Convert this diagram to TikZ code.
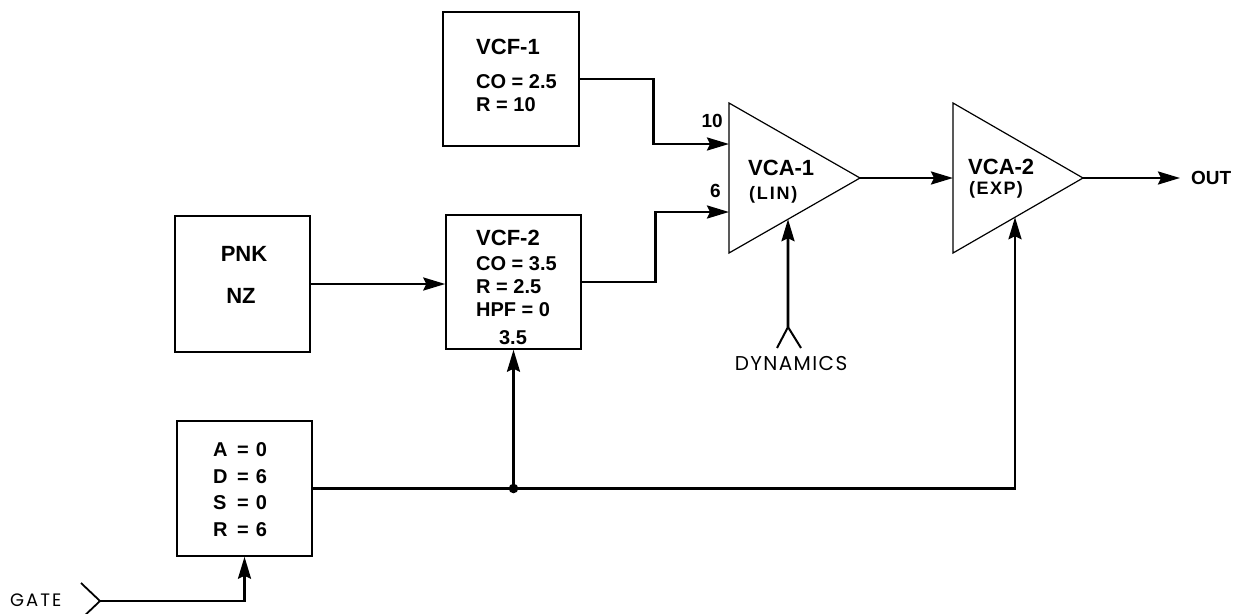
\documentclass[tikz,border=0pt]{standalone}
\usepackage{fontspec}
\setmainfont{Liberation Sans}
\newfontfamily\geofont{Poppins}
\usetikzlibrary{arrows.meta,calc}
\begin{document}
\begin{tikzpicture}[x=1pt,y=-1pt,
  box/.style={draw,line width=1.5pt,inner sep=0pt},
  conn/.style={line width=2.6pt},
  arr/.style={conn,-{Stealth[length=22pt,width=13pt,inset=3pt]}},
  amp/.style={line width=1.2pt,line join=miter},
  tA/.style={font=\bfseries\fontsize{22}{26}\selectfont,inner sep=0pt,anchor=base west},
  tB/.style={font=\bfseries\fontsize{20}{24}\selectfont,inner sep=0pt,anchor=base west},
  tC/.style={font=\bfseries\fontsize{18}{22}\selectfont,inner sep=0pt,anchor=base west},
  tN/.style={font=\bfseries\fontsize{19}{22}\selectfont,inner sep=0pt},
  tG/.style={inner sep=0pt,text depth=0pt},
]
\useasboundingbox[fill=white] (0,0) rectangle (1236,613);

% boxes
\node[box,minimum width=136,minimum height=134] (vcf1) at (511,79) {};
\node[box,minimum width=135,minimum height=136] (pnk) at (242.5,284) {};
\node[box,minimum width=135,minimum height=134] (vcf2) at (513.5,282) {};
\node[box,minimum width=135,minimum height=135] (adsr) at (244.5,488.5) {};

% box texts
\node[tA] (v1a) at (476,54) {VCF-1};
\node[tB] (v1b) at (476,88) {CO = 2.5};
\node[tB] (v1c) at (476,111) {R = 10};

\node[tA,anchor=base] (pa) at (244,261) {PNK};
\node[tA,anchor=base] (pb) at (241,303) {NZ};

\node[tA] (v2a) at (476,245) {VCF-2};
\node[tB] (v2b) at (476,270) {CO = 3.5};
\node[tB] (v2c) at (476,293) {R = 2.5};
\node[tB] (v2d) at (476,316) {HPF = 0};
\node[tB,anchor=base] (v2e) at (513,344) {3.5};

\node[tB] (ea) at (213,456) {\makebox[24pt][l]{A}=\hspace{7pt}0};
\node[tB] (eb) at (213,483) {\makebox[24pt][l]{D}=\hspace{7pt}6};
\node[tB] (ec) at (213,509) {\makebox[24pt][l]{S}=\hspace{7pt}0};
\node[tB] (ed) at (213,536) {\makebox[24pt][l]{R}=\hspace{7pt}6};

% amplifiers
\coordinate (a1tl) at (729,103);
\coordinate (a1bl) at (729,253);
\coordinate (a1tip) at (860,178);
\draw[amp] (a1tl) -- (a1tip) -- (a1bl) -- cycle;
\coordinate (a2tl) at (953,103);
\coordinate (a2bl) at (953,253);
\coordinate (a2tip) at (1083,178);
\draw[amp] (a2tl) -- (a2tip) -- (a2bl) -- cycle;

\node[tA] (a1a) at (748,175) {VCA-1};
\node[tC] (a1b) at (749,199.5) {\addfontfeature{LetterSpace=10}(LIN)};
\node[tA] (a2a) at (968,174) {VCA-2};
\node[tC] (a2b) at (969,194.5) {\addfontfeature{LetterSpace=8}(EXP)};

\node[tN,anchor=base east] (n10) at (723,127) {10};
\node[tN,anchor=base east] (n6) at (721,197) {6};

\coordinate (a1in1) at (729,144);
\coordinate (a1in2) at (729,212);
\coordinate (a2in) at (953,178);
\coordinate (a1ctl) at ($(a1bl)!{59/131}!(a1tip)$);
\coordinate (a2ctl) at ($(a2bl)!{62/130}!(a2tip)$);

% connectors
\draw[arr] (vcf1.east) -- ++(74,0) |- (a1in1);
\draw[arr] (vcf2.east) -- ++(74,0) |- (a1in2);
\draw[arr] (pnk.east) -- (pnk.east -| vcf2.west);
\draw[arr] (a1tip) -- (a2in);

\coordinate (outtip) at (1180,178);
\draw[arr] (a2tip) -- (outtip);
\node[tN,anchor=base west] (out) at (1191,184) {OUT};

% dynamics
\coordinate (dyn) at (788,327);
\draw[line width=2pt] (777,348) -- (dyn) -- (801,348);
\draw[arr] (dyn) -- (a1ctl);
\node[tG,anchor=base,font=\geofont\fontsize{20}{24}\selectfont\addfontfeature{LetterSpace=7}] (dynl) at (791,370) {DYNAMICS};

% envelope
\coordinate (dot) at (vcf2.south |- adsr.east);
\draw[conn] (adsr.east) -- (dot);
\draw[arr] (dot) -| (a2ctl);
\draw[arr] (dot) -- (vcf2.south);
\fill (dot) circle (4.8);

% gate
\coordinate (gatein) at (100,601);
\draw[line width=1.8pt] (81,583) -- (gatein) -- (81,619);
\draw[arr] (gatein) -| (adsr.south);
\node[tG,anchor=base west,font=\geofont\fontsize{18}{22}\selectfont\addfontfeature{LetterSpace=11}] (gate) at (10,606) {GATE};
\end{tikzpicture}
\end{document}
